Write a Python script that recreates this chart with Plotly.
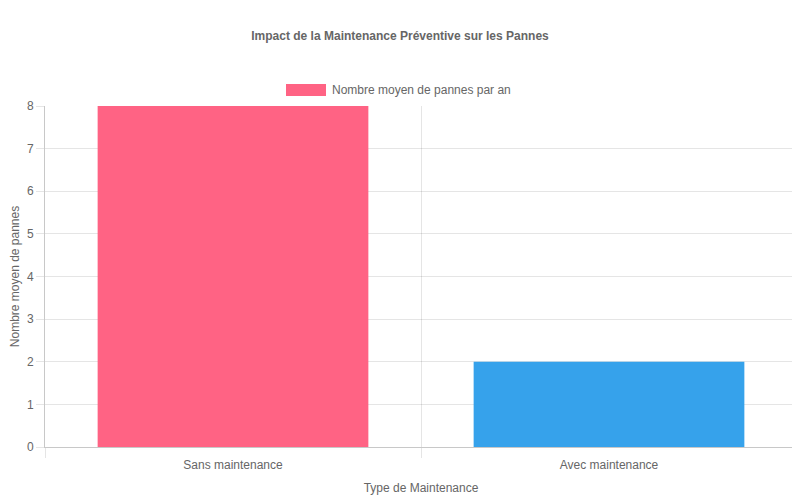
import plotly.graph_objects as go

categories = ["Sans maintenance", "Avec maintenance"]
pannes = [8, 2]
bar_colors = ["#FF6384", "#36A2EB"]
y_ticks = [0, 1, 2, 3, 4, 5, 6, 7, 8]

title = "Impact de la Maintenance Préventive sur les Pannes"
series_name = "Nombre moyen de pannes par an"

grid = "rgba(0,0,0,0.1)"
txt = "#666666"
font = "Liberation Sans, Arial, sans-serif"

# the page puts the figure 8px in from the top-left corner, so margins are shifted
off = 8

x_pos = list(range(len(categories)))

fig = go.Figure()
fig.add_trace(go.Bar(x=x_pos, y=pannes, name=series_name,
                     marker=dict(color=bar_colors, line=dict(width=0)),
                     showlegend=False))

fig.update_layout(
    width=800, height=500,
    margin=dict(l=45 - off, r=3 + off, t=106 - off, b=53 + off),
    paper_bgcolor="white", plot_bgcolor="white",
    font=dict(family=font, size=12, color=txt),
    bargap=0.28,
    title=dict(text="<b>" + title + "</b>", x=(400 - off) / 800, xanchor="center",
               y=1 - (36 - off) / 500, yanchor="middle",
               font=dict(size=12, color=txt)),
)

fig.update_xaxes(
    range=[-0.5, len(categories) - 0.5],
    tickvals=x_pos, ticktext=categories,
    ticks="outside", ticklen=7, tickcolor="rgba(0,0,0,0)",
    showgrid=False, zeroline=False,
    showline=True, linecolor="#c8c8c8", linewidth=1,
    minor=dict(tickvals=[i - 0.5 for i in range(len(categories) + 1)],
               ticks="outside", ticklen=10, tickcolor=grid,
               showgrid=True, gridcolor=grid, gridwidth=1),
    title=dict(text="Type de Maintenance", standoff=12,
               font=dict(size=12, color=txt)),
    automargin=False,
)

fig.update_yaxes(
    range=[0, max(y_ticks)],
    tickvals=y_ticks,
    ticks="outside", ticklen=8, tickcolor=grid,
    showgrid=True, gridcolor=grid, gridwidth=1,
    zeroline=False,
    showline=True, linecolor="#c8c8c8", linewidth=1,
    title=dict(text="Nombre moyen de pannes", standoff=10,
               font=dict(size=12, color=txt)),
    automargin=False,
)

# legend drawn like the original (wide colour box + label)
fig.add_shape(type="rect", xref="paper", yref="paper",
              x0=(286 - 45) / 752, x1=(326 - 45) / 752,
              y0=(447 - 84) / 341, y1=(447 - 96) / 341,
              fillcolor=bar_colors[0], line=dict(width=0))
fig.add_annotation(text=series_name, xref="paper", yref="paper",
                   x=(330 - 45) / 752, y=(447 - 90) / 341,
                   xanchor="left", yanchor="middle", showarrow=False,
                   font=dict(size=12, color=txt))

fig.write_html("out.html")
